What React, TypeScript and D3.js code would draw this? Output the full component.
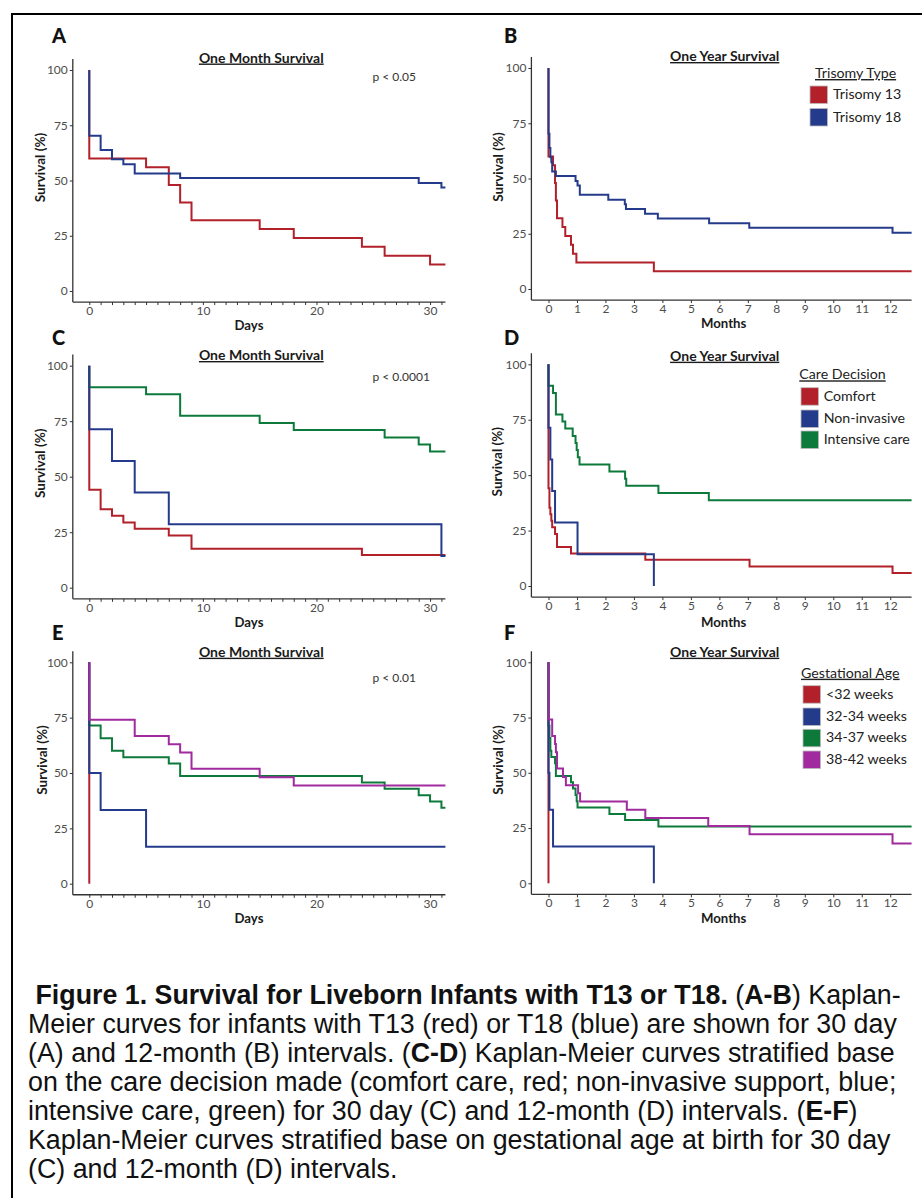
import React, { useEffect, useRef } from "react";
import * as d3 from "d3";

const W = 922;
const H = 1198;
const FONT = "Lato, 'Open Sans', sans-serif";
const CAP_FONT = "'Liberation Sans', Arial, sans-serif";

const RED = "#B2202A";
const BLUE = "#243B8C";
const GREEN = "#0D7A3B";
const MAGENTA = "#A02A9E";

// ---------- Panel A: one month, trisomy type (days) ----------
const t13DaysT = [0, 5, 7, 8, 9, 15, 18, 24, 26, 30];
const t13DaysS = [60, 56, 48, 40, 32, 28, 24, 20, 16, 12];
const t18DaysT = [0, 1, 2, 3, 4, 8, 29, 31];
const t18DaysS = [70.2, 63.8, 59.6, 57.4, 53.2, 51.1, 48.9, 46.8];

// ---------- Panel B: one year, trisomy type (months) ----------
const t13MonthsT = [0, 0.16, 0.23, 0.26, 0.3, 0.49, 0.59, 0.79, 0.86, 0.98, 3.7];
const t13MonthsS = [60, 56, 48, 40, 32, 28, 24, 20, 16, 12, 8];
const t18MonthsT = [0, 0.033, 0.066, 0.1, 0.13, 0.26, 0.95, 1.02, 1.1, 2.1, 2.68, 2.72, 3.39, 3.84, 5.64, 7.05, 12.08];
const t18MonthsS = [70.2, 63.8, 59.6, 57.4, 53.2, 51.1, 48.9, 46.8, 42.6, 40.4, 38.3, 36.2, 34.0, 31.9, 29.8, 27.7, 25.5];

// ---------- Panel C: one month, care decision (days) ----------
const comfortDaysT = [0, 1, 2, 3, 4, 7, 9, 24];
const comfortDaysS = [44.1, 35.3, 32.4, 29.4, 26.5, 23.5, 17.6, 14.7];
const nonInvDaysT = [0, 2, 4, 7, 31];
const nonInvDaysS = [71.4, 57.1, 42.9, 28.6, 14.3];
const intensiveDaysT = [0, 5, 8, 15, 18, 26, 29, 30];
const intensiveDaysS = [90.3, 87.1, 77.4, 74.2, 71.0, 67.7, 64.5, 61.3];

// ---------- Panel D: one year, care decision (months) ----------
const comfortMonthsT = [0, 0.033, 0.066, 0.1, 0.13, 0.23, 0.3, 0.79, 3.4, 7.06, 12.08];
const comfortMonthsS = [44.1, 35.3, 32.4, 29.4, 26.5, 23.5, 17.6, 14.7, 11.8, 8.8, 5.9];
const nonInvMonthsT = [0, 0.066, 0.13, 0.23, 1.02, 3.7];
const nonInvMonthsS = [71.4, 57.1, 42.9, 28.6, 14.3, 0];
const intensiveMonthsT = [0, 0.16, 0.26, 0.49, 0.59, 0.85, 0.95, 0.99, 1.03, 1.09, 2.14, 2.69, 2.73, 3.86, 5.63];
const intensiveMonthsS = [90.3, 87.1, 77.4, 74.2, 71.0, 67.7, 64.5, 61.3, 58.1, 54.8, 51.6, 48.4, 45.2, 41.9, 38.7];

// ---------- Panel E: one month, gestational age (days) ----------
const lt32DaysT = [0];
const lt32DaysS = [0];
const w3234DaysT = [0, 1, 5];
const w3234DaysS = [50, 33.3, 16.7];
const w3437DaysT = [0, 1, 2, 3, 7, 8, 24, 26, 29, 30, 31];
const w3437DaysS = [71.4, 65.7, 60.0, 57.1, 54.3, 48.6, 45.7, 42.9, 40.0, 37.1, 34.3];
const w3842DaysT = [0, 4, 7, 8, 9, 15, 18];
const w3842DaysS = [74.1, 66.7, 63.0, 59.3, 51.9, 48.1, 44.4];

// ---------- Panel F: one year, gestational age (months) ----------
const lt32MonthsT = [0];
const lt32MonthsS = [0];
const w3234MonthsT = [0, 0.033, 0.16, 3.7];
const w3234MonthsS = [50, 33.3, 16.7, 0];
const w3437MonthsT = [0, 0.033, 0.066, 0.1, 0.23, 0.26, 0.79, 0.86, 0.95, 0.99, 1.02, 2.14, 2.69, 3.86];
const w3437MonthsS = [71.4, 65.7, 60.0, 57.1, 54.3, 48.6, 45.7, 42.9, 40.0, 37.1, 34.3, 31.4, 28.6, 25.7];
const w3842MonthsT = [0, 0.13, 0.23, 0.26, 0.3, 0.51, 0.61, 1.04, 1.11, 2.75, 3.4, 5.61, 7.06, 12.08];
const w3842MonthsS = [74.1, 66.7, 63.0, 59.3, 51.9, 48.1, 44.4, 40.7, 37.0, 33.3, 29.6, 25.9, 22.2, 18.0];

// ---------- axes / labels ----------
const yTicks = [0, 25, 50, 75, 100];
const dayTicks = d3.range(0, 32);
const dayLabels = [0, 10, 20, 30];
const monthTicks = d3.range(0, 13);
const monthLabels = d3.range(0, 13);
const dayDomain = [-1.45, 31.35];
const monthDomain = [-0.6, 12.75];

const trisomyLegend = ["Trisomy 13", "Trisomy 18"];
const careLegend = ["Comfort", "Non-invasive", "Intensive care"];
const gestLegend = ["<32 weeks", "32-34 weeks", "34-37 weeks", "38-42 weeks"];

const captionLines: { text: string; bold?: boolean }[][] = [
  [
    { text: "Figure 1. Survival for Liveborn Infants with T13 or T18.", bold: true },
    { text: " (" },
    { text: "A-B", bold: true },
    { text: ") Kaplan-" },
  ],
  [{ text: "Meier curves for infants with T13 (red) or T18 (blue) are shown for 30 day" }],
  [
    { text: "(A) and 12-month (B) intervals. (" },
    { text: "C-D", bold: true },
    { text: ") Kaplan-Meier curves stratified base" },
  ],
  [{ text: "on the care decision made (comfort care, red; non-invasive support, blue;" }],
  [
    { text: "intensive care, green) for 30 day (C) and 12-month (D) intervals. (" },
    { text: "E-F", bold: true },
    { text: ")" },
  ],
  [{ text: "Kaplan-Meier curves stratified base on gestational age at birth for 30 day" }],
  [{ text: "(C) and 12-month (D) intervals." }],
];

type Series = { t: number[]; s: number[]; color: string };

type Panel = {
  letter: string;
  col: number;
  y100: number;
  y0: number;
  letterY: number;
  title: string;
  titleY: number;
  p?: string;
  pY?: number;
  yTitleX: number;
  yTitleY: number;
  xTitle: string;
  xTitleY: number;
  series: Series[];
  legend?: { title: string; items: string[]; colors: string[]; x: number; titleY: number; swX: number; rowY: number[]; labelX: number };
};

const cols = [
  { range: [72.8, 445.4], domain: dayDomain, ticks: dayTicks, labels: dayLabels, letterX: 52, titleX: 261.3, pX: 372.5, xTitleX: 249 },
  { range: [531.4, 911.6], domain: monthDomain, ticks: monthTicks, labels: monthLabels, letterX: 504, titleX: 724.7, pX: 0, xTitleX: 723.7 },
];

const panels: Panel[] = [
  {
    letter: "A", col: 0, y100: 70, y0: 291, letterY: 43, title: "One Month Survival", titleY: 62.5,
    p: "p < 0.05", pY: 80.5, yTitleX: 40, yTitleY: 167.5, xTitle: "Days", xTitleY: 330,
    series: [
      { t: t13DaysT, s: t13DaysS, color: RED },
      { t: t18DaysT, s: t18DaysS, color: BLUE },
    ],
  },
  {
    letter: "B", col: 1, y100: 68, y0: 289, letterY: 43, title: "One Year Survival", titleY: 61,
    yTitleX: 497.7, yTitleY: 167, xTitle: "Months", xTitleY: 327.5,
    series: [
      { t: t13MonthsT, s: t13MonthsS, color: RED },
      { t: t18MonthsT, s: t18MonthsS, color: BLUE },
    ],
    legend: { title: "Trisomy Type", items: trisomyLegend, colors: [RED, BLUE], x: 815, titleY: 78, swX: 810, rowY: [86, 108.5], labelX: 833 },
  },
  {
    letter: "C", col: 0, y100: 365.7, y0: 587.7, letterY: 345, title: "One Month Survival", titleY: 360,
    p: "p < 0.0001", pY: 381, yTitleX: 40, yTitleY: 463.3, xTitle: "Days", xTitleY: 626.7,
    series: [
      { t: comfortDaysT, s: comfortDaysS, color: RED },
      { t: intensiveDaysT, s: intensiveDaysS, color: GREEN },
      { t: nonInvDaysT, s: nonInvDaysS, color: BLUE },
    ],
  },
  {
    letter: "D", col: 1, y100: 364.3, y0: 586, letterY: 345, title: "One Year Survival", titleY: 360.7,
    yTitleX: 496.5, yTitleY: 461.7, xTitle: "Months", xTitleY: 627,
    series: [
      { t: comfortMonthsT, s: comfortMonthsS, color: RED },
      { t: intensiveMonthsT, s: intensiveMonthsS, color: GREEN },
      { t: nonInvMonthsT, s: nonInvMonthsS, color: BLUE },
    ],
    legend: { title: "Care Decision", items: careLegend, colors: [RED, BLUE, GREEN], x: 799.3, titleY: 379.3, swX: 801, rowY: [387.7, 410, 431], labelX: 823.7 },
  },
  {
    letter: "E", col: 0, y100: 662.3, y0: 883.7, letterY: 640, title: "One Month Survival", titleY: 656.7,
    p: "p < 0.01", pY: 681.7, yTitleX: 41.5, yTitleY: 760, xTitle: "Days", xTitleY: 922.7,
    series: [
      { t: lt32DaysT, s: lt32DaysS, color: RED },
      { t: w3437DaysT, s: w3437DaysS, color: GREEN },
      { t: w3234DaysT, s: w3234DaysS, color: BLUE },
      { t: w3842DaysT, s: w3842DaysS, color: MAGENTA },
    ],
  },
  {
    letter: "F", col: 1, y100: 662.3, y0: 883.3, letterY: 640, title: "One Year Survival", titleY: 656.7,
    yTitleX: 497.7, yTitleY: 760, xTitle: "Months", xTitleY: 923,
    series: [
      { t: lt32MonthsT, s: lt32MonthsS, color: RED },
      { t: w3437MonthsT, s: w3437MonthsS, color: GREEN },
      { t: w3234MonthsT, s: w3234MonthsS, color: BLUE },
      { t: w3842MonthsT, s: w3842MonthsS, color: MAGENTA },
    ],
    legend: { title: "Gestational Age", items: gestLegend, colors: [RED, BLUE, GREEN, MAGENTA], x: 801, titleY: 677.7, swX: 803, rowY: [685.7, 708, 729.3, 751], labelX: 826 },
  },
];

function AxisG({ scale, orient, y, x, tickValues, labelValues }: any) {
  const ref = useRef<SVGGElement>(null);
  useEffect(() => {
    const g = d3.select(ref.current as SVGGElement);
    const base = orient === "left" ? d3.axisLeft(scale) : d3.axisBottom(scale);
    const ax = base
      .tickValues(tickValues)
      .tickSize(3)
      .tickPadding(orient === "left" ? 2 : 1.5)
      .tickFormat((d: any) => (labelValues.includes(d) ? String(d) : ""));
    g.call(ax as any);
    g.select(".domain").remove();
    g.selectAll(".tick line").attr("stroke", "#333").attr("stroke-width", 1);
    g.selectAll(".tick text")
      .attr("fill", "#4d4d4d")
      .style("font-family", FONT)
      .style("font-size", "12px");
  }, []);
  const tr = orient === "left" ? `translate(${x},0)` : `translate(0,${y})`;
  return <g ref={ref} transform={tr} />;
}

function PanelView({ p }: { p: Panel }) {
  const c = cols[p.col];
  const xs = d3.scaleLinear().domain(c.domain).range(c.range);
  const unit = (p.y0 - p.y100) / 100;
  const ys = d3.scaleLinear().domain([-5, 105]).range([p.y0 + 5 * unit, p.y100 - 5 * unit]);
  const line = d3
    .line<[number, number]>()
    .x((d) => xs(d[0]))
    .y((d) => ys(d[1]))
    .curve(d3.curveStepAfter);
  const axisY = ys(-5);
  const axisX = xs(c.domain[0]);
  const xEnd = c.domain[1];
  return (
    <g>
      <text x={c.letterX} y={p.letterY} fontFamily={FONT} fontWeight={900} fontSize={20} fill="#111">
        {p.letter}
      </text>
      <text
        x={c.titleX}
        y={p.titleY}
        textAnchor="middle"
        fontFamily={FONT}
        fontWeight={700}
        fontSize={14}
        fill="#1a1a1a"
        style={{ textDecoration: "underline" }}
      >
        {p.title}
      </text>
      {p.p && (
        <text x={c.pX} y={p.pY} fontFamily={FONT} fontSize={12} fill="#333">
          {p.p}
        </text>
      )}
      {p.series.map((s, i) => {
        const pts: [number, number][] = [[0, 100], ...s.t.map((t, j) => [t, s.s[j]] as [number, number])];
        const last = s.s[s.s.length - 1];
        if (last > 0) pts.push([xEnd, last]);
        return <path key={i} d={line(pts) || ""} fill="none" stroke={s.color} strokeWidth={2} />;
      })}
      <line x1={axisX} x2={axisX} y1={ys(105)} y2={axisY} stroke="#333" strokeWidth={1.3} />
      <line x1={axisX} x2={c.range[1]} y1={axisY} y2={axisY} stroke="#333" strokeWidth={1.3} />
      <AxisG scale={ys} orient="left" x={axisX} tickValues={yTicks} labelValues={yTicks} />
      <AxisG scale={xs} orient="bottom" y={axisY} tickValues={c.ticks} labelValues={c.labels} />
      <text
        transform={`translate(${p.yTitleX},${p.yTitleY}) rotate(-90)`}
        textAnchor="middle"
        dominantBaseline="central"
        fontFamily={FONT}
        fontWeight={700}
        fontSize={13.5}
        fill="#1a1a1a"
      >
        Survival (%)
      </text>
      <text x={c.xTitleX} y={p.xTitleY} textAnchor="middle" fontFamily={FONT} fontWeight={700} fontSize={13.2} fill="#1a1a1a">
        {p.xTitle}
      </text>
      {p.legend && (
        <g>
          <text x={p.legend.x} y={p.legend.titleY} fontFamily={FONT} fontSize={14.2} fill="#222" style={{ textDecoration: "underline" }}>
            {p.legend.title}
          </text>
          {p.legend.items.map((it, i) => (
            <g key={it}>
              <rect
                x={p.legend!.swX}
                y={p.legend!.rowY[i]}
                width={17.5}
                height={17.5}
                fill={p.legend!.colors[i]}
                stroke="#bbb"
                strokeWidth={0.8}
              />
              <text x={p.legend!.labelX} y={p.legend!.rowY[i] + 13} fontFamily={FONT} fontSize={14.2} fill="#222">
                {it}
              </text>
            </g>
          ))}
        </g>
      )}
    </g>
  );
}

export default function App() {
  return (
    <svg
      width={W}
      height={H}
      viewBox={`0 0 ${W} ${H}`}
      style={{ position: "absolute", left: 0, top: 0, background: "#fff", display: "block" }}
    >
      <rect x={0} y={0} width={W} height={H} fill="#fff" />
      <path d={`M12,${H} V14 H${W}`} fill="none" stroke="#000" strokeWidth={2} />
      {panels.map((p) => (
        <PanelView key={p.letter} p={p} />
      ))}
      {captionLines.map((ln, i) => (
        <text key={i} x={i === 0 ? 35.5 : 28} y={1004 + i * 29} fontFamily={CAP_FONT} fontSize={26.8} fill="#111">
          {ln.map((seg, j) => (
            <tspan key={j} fontWeight={seg.bold ? 700 : 400}>
              {seg.text}
            </tspan>
          ))}
        </text>
      ))}
    </svg>
  );
}
